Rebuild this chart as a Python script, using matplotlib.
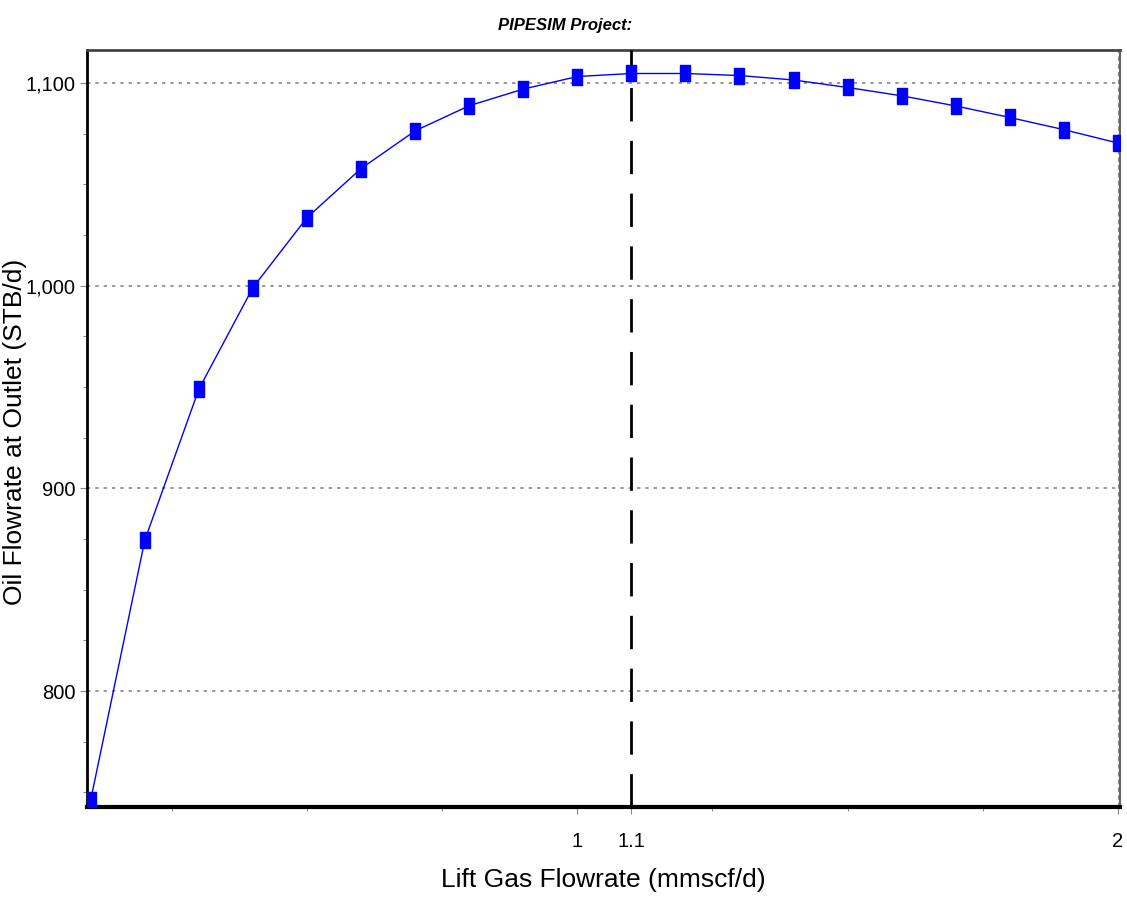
import matplotlib
matplotlib.use("Agg")
import matplotlib.pyplot as plt
from matplotlib.ticker import FixedLocator, MultipleLocator, FuncFormatter

# Dane: wydatek gazu (mmscf/d) vs wydatek ropy (STB/d)
lift_gas = [0.1, 0.2, 0.3, 0.4, 0.5, 0.6, 0.7, 0.8, 0.9, 1.0,
            1.1, 1.2, 1.3, 1.4, 1.5, 1.6, 1.7, 1.8, 1.9, 2.0]
oil_rate = [746.5, 874.5, 949.0, 999.1, 1033.6, 1057.8, 1076.4, 1088.8, 1097.0, 1103.2,
            1104.7, 1104.7, 1103.7, 1101.5, 1097.8, 1093.7, 1088.7, 1083.0, 1077.0, 1070.4]
optimum_gas = 1.1
x_ticks = [1, 1.1, 2]
x_tick_labels = ['1', '1.1', '2']
y_ticks = [800, 900, 1000, 1100]

narrow = ['Liberation Sans Narrow', 'Liberation Sans', 'DejaVu Sans']

fig = plt.figure(figsize=(11.27, 8.99), dpi=100)
ax = fig.add_axes([0.0772, 0.1023, 0.9166, 0.8421])

# prostokatny znacznik (wyzszy niz szerszy)
rect = [(-0.3, -0.5), (0.3, -0.5), (0.3, 0.5), (-0.3, 0.5), (-0.3, -0.5)]
ax.plot(lift_gas, oil_rate, color='#0000ff', linewidth=1.0,
        marker=rect, markersize=11.5, markerfacecolor='#0000ff',
        markeredgecolor='#0000ff', zorder=4, clip_on=True)

# linia optimum
ax.axvline(optimum_gas, color='black', linewidth=2, linestyle=(0, (12, 7)), zorder=3)
ax.axvline(2.0, color='#888888', linewidth=0.8, linestyle=(0, (4, 3)), zorder=2)

ax.set_xlim(0.093, 2.004)
ax.set_ylim(742.8, 1116.3)

ax.xaxis.set_major_locator(FixedLocator(x_ticks))
ax.set_xticklabels(x_tick_labels)
ax.xaxis.set_minor_locator(MultipleLocator(0.25))
ax.yaxis.set_major_locator(FixedLocator(y_ticks))
ax.yaxis.set_minor_locator(MultipleLocator(25))
ax.yaxis.set_major_formatter(FuncFormatter(lambda v, p: f'{v:,.0f}'))

ax.grid(True, axis='y', which='major', color='#888888', linestyle=(0, (2, 3)), linewidth=1.2)
ax.tick_params(axis='both', which='major', length=5, width=0.8, color='#888888')
ax.tick_params(axis='x', which='major', pad=13)
ax.tick_params(axis='y', which='major', pad=3)
ax.tick_params(axis='both', which='minor', length=3, width=0.8, color='#888888')
for lbl in ax.get_xticklabels() + ax.get_yticklabels():
    lbl.set_family(narrow)
    lbl.set_fontsize(14.5)

ax.spines['bottom'].set_linewidth(3)
ax.spines['bottom'].set_color('black')
ax.spines['left'].set_linewidth(2)
ax.spines['left'].set_color('black')
ax.spines['top'].set_linewidth(2)
ax.spines['top'].set_color('#444444')
ax.spines['right'].set_linewidth(1.5)
ax.spines['right'].set_color('#666666')

ax.set_xlabel('Lift Gas Flowrate (mmscf/d)', family=narrow, fontsize=19, labelpad=12)
fig.text(15.5 / 1127, 1 - 432 / 899, 'Oil Flowrate at Outlet (STB/d)',
         family=['Liberation Sans', 'DejaVu Sans'], fontsize=19,
         rotation=90, ha='center', va='center')
fig.text(0.501, 0.972, 'PIPESIM Project:', family=narrow, fontsize=12,
         fontweight='bold', fontstyle='italic', ha='center', va='center')

fig.savefig('out.png', dpi=100, facecolor='white')
